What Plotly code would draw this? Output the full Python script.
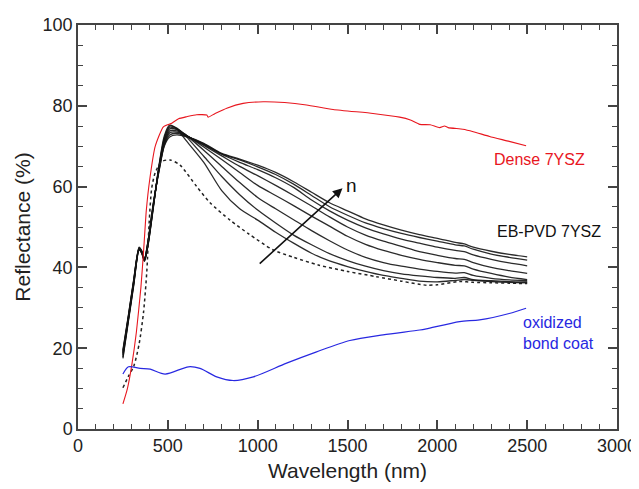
import plotly.graph_objects as go

# ---------------- data ----------------
wl_dense = [250, 275, 300, 325, 350, 365, 380, 400, 430, 475, 522, 560, 605, 660, 717, 724,
            760, 828, 919, 1031, 1150, 1272, 1420, 1642, 1790, 1850, 1902, 1960, 2013, 2040,
            2060, 2142, 2200, 2291, 2400, 2494]
r_dense = [6.2, 10, 16, 24, 35, 44, 54, 62, 70, 74.8, 75.7, 76.8, 77.3, 77.8, 77.7, 77.2,
           78.0, 79.4, 80.6, 81.0, 80.8, 80.2, 79.1, 78.1, 77.2, 76.5, 75.4, 75.3, 74.6, 75.0,
           74.6, 74.2, 73.6, 72.4, 71.2, 70.1]

wl_bond = [250, 281, 346, 402, 485, 615, 679, 772, 864, 976, 1161, 1328, 1513, 1698, 1902,
           1939, 2124, 2235, 2400, 2494]
r_bond = [13.6, 15.4, 15.0, 14.8, 13.6, 15.4, 15.0, 12.9, 12.0, 12.9, 16.3, 19.1, 21.9, 23.3,
          24.5, 24.8, 26.6, 27.0, 28.6, 29.9]

wl_dot = [250, 280, 310, 340, 365, 383, 396, 410, 430, 466, 513, 568, 661, 735, 846, 950,
          1087, 1200, 1337, 1500, 1661, 1800, 1939, 2000, 2124, 2200, 2300, 2400, 2500]
r_dot = [10.2, 13, 15.5, 21, 29, 39, 51, 59.5, 63.5, 66.2, 66.6, 65.3, 60, 56, 51.7, 48.3,
         44.3, 42.5, 40.6, 39, 37.7, 36.6, 35.6, 35.7, 36.5, 36.3, 36.2, 36.1, 36.0]

wl_eb = [250, 280, 310, 340, 355, 370, 390, 420, 450, 480, 510, 550, 600, 700, 800, 900,
         1000, 1100, 1200, 1300, 1400, 1500, 1600, 1700, 1800, 1900, 2000, 2100, 2150, 2200,
         2300, 2400, 2500]
eb_n1 = [17.5, 26.5, 35.5, 44.3, 43.5, 41.5, 45.5, 55, 65, 72.5, 75.2, 74.3, 71.5, 66, 59,
         54.5, 51.7, 48.7, 46, 43.5, 41.6, 40.2, 39, 38, 37.3, 36.6, 36.4, 36.8, 37, 36.8,
         36.5, 36.3, 36.2]
eb_n2 = [17.8, 26.8, 35.8, 44.4, 43.5, 41.6, 45.6, 55.2, 64.8, 72, 75, 74.5, 72.5, 67.5, 62.5,
         58, 54.2, 51, 48, 45.6, 43.4, 41.7, 40.3, 39.2, 38.4, 37.9, 37.5, 37.3, 37.5, 37,
         36.7, 36.5, 36.4]
eb_n3 = [18.2, 27, 36, 44.5, 43.6, 41.7, 45.8, 55.3, 64.6, 71.6, 74.7, 74.3, 72.8, 69, 65,
         61, 57.3, 54.5, 51.8, 49.1, 46.6, 44.3, 42.5, 41.2, 40.3, 39.6, 39, 38.6, 38.7, 38,
         37.3, 36.9, 36.7]
eb_n4 = [18.5, 27.2, 36.2, 44.6, 43.7, 41.8, 46, 55.5, 64.4, 71.2, 74.3, 74.1, 72.8, 69.8, 66.7,
         63.5, 60.3, 57.8, 55.3, 52.7, 50.2, 47.7, 45.7, 44.2, 43, 42, 41.2, 40.5, 40.4, 39.6,
         38.5, 37.6, 37.0]
eb_n5 = [18.8, 27.4, 36.4, 44.7, 43.8, 41.9, 46.2, 55.6, 64.2, 70.8, 73.8, 73.8, 72.7, 70.2,
         67.6, 65, 62.7, 60.3, 57.8, 55.2, 52.5, 50, 48, 46.5, 45.2, 43.9, 43, 42.2, 42,
         41.2, 40, 39.2, 38.5]
eb_n6 = [19, 27.6, 36.6, 44.8, 43.9, 42, 46.4, 55.8, 64, 70.5, 73.3, 73.5, 72.6, 70.4, 68, 66,
         64.2, 62.2, 59.8, 56.7, 54, 51.7, 49.8, 48.3, 47, 46, 45, 44.2, 43.9, 43.1, 42, 41.1,
         40.4]
eb_n7 = [19.3, 27.8, 36.8, 44.9, 44, 42.1, 46.5, 56, 63.8, 70.2, 72.8, 73.2, 72.5, 70.6,
         68.1, 66.6, 64.9, 63, 60.6, 57.8, 55, 52.9, 51, 49.6, 48.4, 47.4, 46.5, 45.6, 45.3,
         44.5, 43.3, 42.5, 41.8]
eb_n8 = [19.6, 28, 37, 45, 44.1, 42.2, 46.6, 56.1, 63.6, 70, 72.3, 72.8, 72.4, 70.7, 68.2,
         66.8, 65.3, 63.5, 61.2, 58.6, 56, 54, 52, 50.5, 49.2, 48.1, 47.2, 46.2, 45.8, 45, 44,
         43.2, 42.6]
eb_curves = [eb_n1, eb_n2, eb_n3, eb_n4, eb_n5, eb_n6, eb_n7, eb_n8]

arrow_tail = (1003, 40.6)
arrow_head = (1472, 59.6)

# ---------------- figure ----------------
RED = "rgb(232,22,30)"
BLUE = "rgb(40,40,225)"
FONT = "Liberation Sans, Arial, sans-serif"

fig = go.Figure()
for ys in eb_curves:
    fig.add_trace(go.Scatter(x=wl_eb, y=ys, mode="lines",
                             line=dict(color="rgba(20,20,20,0.9)", width=1.3,
                                       shape="spline", smoothing=0.7),
                             showlegend=False, hoverinfo="skip"))
fig.add_trace(go.Scatter(x=wl_dot, y=r_dot, mode="lines",
                         line=dict(color="#222", width=1.5, dash="dot",
                                   shape="spline", smoothing=0.7),
                         showlegend=False))
fig.add_trace(go.Scatter(x=wl_dense, y=r_dense, mode="lines",
                         line=dict(color=RED, width=1.1, shape="spline", smoothing=0.5),
                         showlegend=False))
fig.add_trace(go.Scatter(x=wl_bond, y=r_bond, mode="lines",
                         line=dict(color=BLUE, width=1.2, shape="spline", smoothing=0.8),
                         showlegend=False))

fig.add_annotation(x=arrow_head[0], y=arrow_head[1], ax=arrow_tail[0], ay=arrow_tail[1],
                   xref="x", yref="y", axref="x", ayref="y", showarrow=True,
                   arrowhead=2, arrowsize=1.2, arrowwidth=1.6, arrowcolor="#111", text="")
fig.add_annotation(x=1522, y=60.3, text="n", showarrow=False, xanchor="center",
                   font=dict(family=FONT, size=19, color="#111"))
fig.add_annotation(x=2569, y=66.6, text="Dense 7YSZ", showarrow=False, xanchor="center",
                   font=dict(family=FONT, size=16, color=RED))
fig.add_annotation(x=2619, y=48.8, text="EB-PVD 7YSZ", showarrow=False, xanchor="center",
                   font=dict(family=FONT, size=16, color="#111"))
fig.add_annotation(x=2467, y=23.8, text="oxidized<br>bond coat", showarrow=False,
                   xanchor="left", align="left",
                   font=dict(family=FONT, size=16, color=BLUE))

axis_common = dict(showgrid=False, zeroline=False, showline=True, linecolor="#444",
                   linewidth=1.5, mirror="ticks", ticks="inside", tickcolor="#444",
                   tickwidth=1.5, ticklen=9, automargin=False,
                   tickfont=dict(family=FONT, size=18, color="#222"))
fig.update_xaxes(range=[0, 3000], tick0=0, dtick=500,
                 minor=dict(ticks="inside", dtick=100, ticklen=5, tickcolor="#444", tickwidth=1.2),
                 title=dict(text="Wavelength (nm)", font=dict(family=FONT, size=21, color="#222"),
                            standoff=8),
                 **axis_common)
fig.update_yaxes(range=[0, 100], tick0=0, dtick=20,
                 minor=dict(ticks="inside", dtick=5, ticklen=5, tickcolor="#444", tickwidth=1.2),
                 title=dict(text="Reflectance (%)", font=dict(family=FONT, size=21, color="#222"),
                            standoff=6),
                 **axis_common)
fig.update_layout(width=639, height=489, plot_bgcolor="white", paper_bgcolor="white",
                  margin=dict(l=70, r=30, t=17, b=68), font=dict(family=FONT))

fig.write_html("out.html")
